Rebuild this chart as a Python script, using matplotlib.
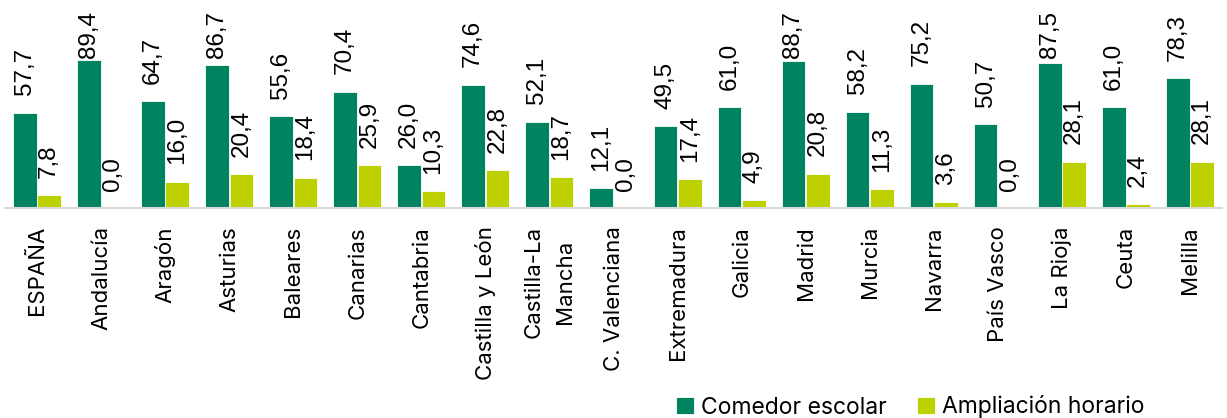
import numpy as np
import matplotlib.pyplot as plt

regiones = ["ESPAÑA", "Andalucía", "Aragón", "Asturias", "Baleares", "Canarias",
            "Cantabria", "Castilla y León", "Castilla-La\nMancha", "C. Valenciana",
            "Extremadura", "Galicia", "Madrid", "Murcia", "Navarra", "País Vasco",
            "La Rioja", "Ceuta", "Melilla"]
comedor = [57.7, 89.4, 64.7, 86.7, 55.6, 70.4, 26.0, 74.6, 52.1, 12.1,
           49.5, 61.0, 88.7, 58.2, 75.2, 50.7, 87.5, 61.0, 78.3]
ampliacion = [7.8, 0.0, 16.0, 20.4, 18.4, 25.9, 10.3, 22.8, 18.7, 0.0,
              17.4, 4.9, 20.8, 11.3, 3.6, 0.0, 28.1, 2.4, 28.1]
series = ["Comedor escolar", "Ampliación horario"]

verde = "#00835F"
lima = "#BDD100"

fig = plt.figure(figsize=(12.27, 4.18), dpi=100)
ax = fig.add_axes([5 / 1227, 1 - 208 / 418, 1217 / 1227, 208 / 418])

x = np.arange(len(regiones))
w = 0.37
off = 0.19
b1 = ax.bar(x - off, comedor, w, color=verde, edgecolor="white", linewidth=0.6, label=series[0])
b2 = ax.bar(x + off, ampliacion, w, color=lima, edgecolor="white", linewidth=0.6, label=series[1])

ax.set_xlim(-0.5, len(regiones) - 0.5)
ax.set_ylim(0, 125.7)

# etiquetas de datos, limitadas al area del grafico
for xs, vals in ((x - off, comedor), (x + off, ampliacion)):
    for xi, v in zip(xs, vals):
        ypos = min(v + 10.5, 90.5)
        ax.text(xi, ypos, f"{v:.1f}".replace(".", ","), rotation=90,
                ha="center", va="bottom", fontsize=17.5, family="Liberation Sans",
                color="black")

for s in ["top", "right", "left"]:
    ax.spines[s].set_visible(False)
ax.spines["bottom"].set_color("#D9D9D9")
ax.spines["bottom"].set_linewidth(1.5)
ax.set_yticks([])
ax.set_xticks(x)
ax.set_xticklabels(regiones, rotation=90, fontsize=16, family="Inter",
                   multialignment="center", linespacing=1.75)
ax.tick_params(axis="x", length=0, pad=13)

fig.legend(handles=[b1, b2], labels=series, loc="center",
           bbox_to_anchor=(910 / 1227, 1 - 407 / 418), ncol=2, frameon=False,
           prop={"family": "Inter", "size": 16.5}, handlelength=0.8, handleheight=0.8,
           handletextpad=0.3, columnspacing=1.3, borderpad=0)

fig.savefig("out.png", dpi=100)
